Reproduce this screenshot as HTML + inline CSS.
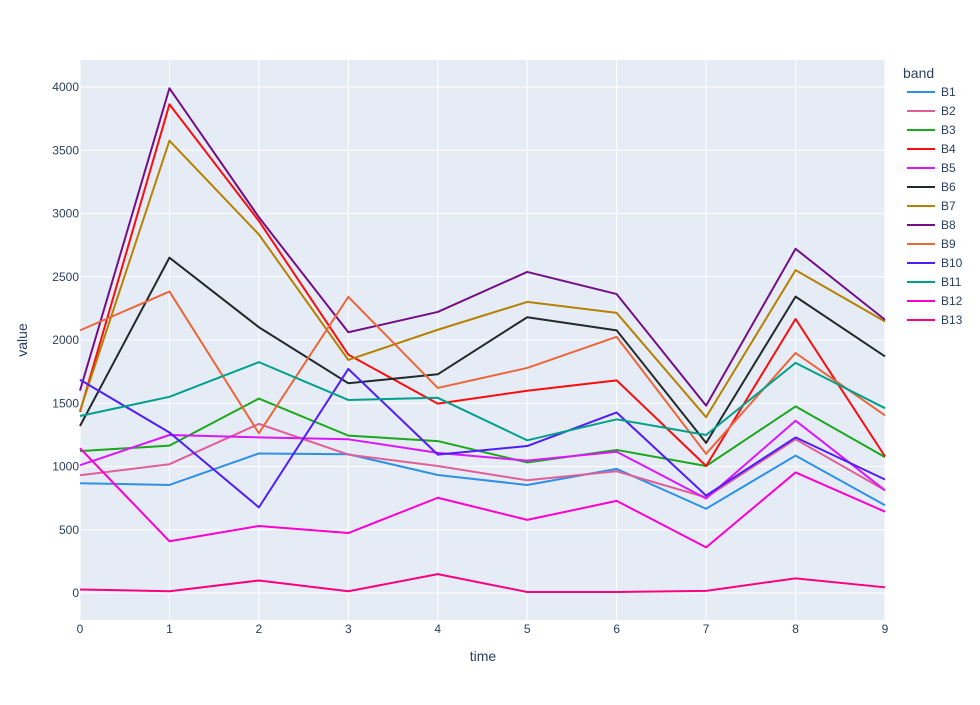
<!DOCTYPE html>
<html><head><meta charset="utf-8"><style>
body{margin:0;background:#fff;font-family:"Liberation Sans",Arial,sans-serif;}
svg text{font-family:"Liberation Sans",Arial,sans-serif;fill:#2a3f5f;}
</style></head><body>
<svg id="chart" width="980" height="700">
<rect x="80" y="60" width="805" height="560" fill="#E5ECF6"/>
<g id="grid"></g><g id="lines"></g><g id="axes"></g><g id="legend"></g>
</svg>
<script>
const categories=[0,1,2,3,4,5,6,7,8,9];
const bands=["B1","B2","B3","B4","B5","B6","B7","B8","B9","B10","B11","B12","B13"];
const colors=["#2E91E5","#E15F99","#1CA71C","#FB0D0D","#DA16FF","#222A2A","#B68100","#750D86","#EB663B","#511CFB","#00A08B","#FB00D1","#FC0080"];
const B1=[868,854,1103,1097,933,854,981,666,1086,694];
const B2=[931,1018,1337,1094,1004,891,962,756,1215,812];
const B3=[1122,1165,1537,1244,1201,1032,1131,1004,1475,1074];
const B4=[1432,3863,2941,1884,1497,1599,1681,1004,2166,1080];
const B5=[1010,1249,1230,1215,1108,1046,1117,747,1362,812];
const B6=[1320,2651,2101,1658,1729,2180,2076,1187,2343,1870];
const B7=[1440,3576,2834,1842,2081,2301,2214,1390,2552,2146];
const B8=[1600,3990,2970,2061,2222,2538,2363,1481,2721,2160];
const B9=[2076,2383,1263,2341,1621,1779,2025,1100,1898,1404];
const B10=[1686,1269,677,1771,1094,1162,1427,770,1230,897];
const B11=[1399,1551,1825,1526,1543,1207,1373,1249,1819,1461];
const B12=[1145,409,530,474,753,578,728,361,953,643];
const B13=[28,14,99,14,149,8,8,17,116,45];
const series=[B1,B2,B3,B4,B5,B6,B7,B8,B9,B10,B11,B12,B13];
const yTicks=[0,500,1000,1500,2000,2500,3000,3500,4000];
const xTicks=[0,1,2,3,4,5,6,7,8,9];
const NS="http://www.w3.org/2000/svg";
const x=v=>80+(v-0)*(805/9);
const y=v=>593-v*0.1265;
function mk(tag,attrs,parent){const e=document.createElementNS(NS,tag);for(const k in attrs)e.setAttribute(k,attrs[k]);parent.appendChild(e);return e;}
const grid=document.getElementById('grid'),axes=document.getElementById('axes'),lines=document.getElementById('lines'),legend=document.getElementById('legend');
yTicks.forEach(t=>{const l=mk('line',{x1:80,x2:885,y1:y(t),y2:y(t),stroke:'#fff','stroke-width':1},grid);


const tx=mk('text',{x:79,y:y(t)+4,'text-anchor':'end','font-size':12},axes);tx.textContent=t;

});
xTicks.forEach(t=>{const l=mk('line',{x1:x(t),x2:x(t),y1:60,y2:620,stroke:'#fff','stroke-width':1},grid);


const tx=mk('text',{x:x(t),y:633,'text-anchor':'middle','font-size':12},axes);tx.textContent=t;

});
let t1=mk('text',{x:483,y:661,'text-anchor':'middle','font-size':14},axes);t1.textContent='time';


let t2=mk('text',{x:27,y:340,'text-anchor':'middle','font-size':14,transform:'rotate(-90 27 340)'},axes);t2.textContent='value';


series.forEach((s,i)=>{const p=mk('polyline',{points:s.map((v,j)=>x(categories[j])+','+y(v)).join(' '),fill:'none',stroke:colors[i],'stroke-width':2,'stroke-linejoin':'round'},lines);

});
let lt=mk('text',{x:903,y:78,'font-size':14},legend);lt.textContent='band';


bands.forEach((b,i)=>{const yy=92+i*19;
const g=mk('g',{},legend);


mk('line',{x1:907,x2:935,y1:yy,y2:yy,stroke:colors[i],'stroke-width':2},g);
const tx=mk('text',{x:941,y:yy+4,'font-size':12},g);tx.textContent=b;});
</script>
</body></html>
